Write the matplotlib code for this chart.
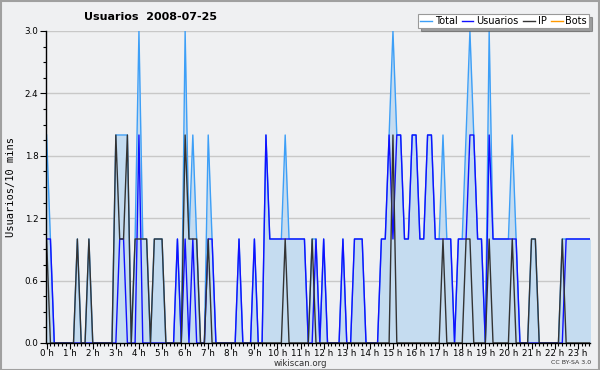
import matplotlib
matplotlib.use("Agg")
import matplotlib.pyplot as plt
from matplotlib.patches import Rectangle
from matplotlib.ticker import MultipleLocator, FixedLocator

# 10-minute slots of 2008-07-25 (index 0 = 00:00)
usuarios = [1,1,0,0,0,0,0,0,0,0,
            0,0,0,0,0,0,0,0,0,1,
            1,0,0,0,2,0,0,0,0,0,
            0,0,0,0,1,0,1,0,1,0,
            0,0,1,1,0,0,0,0,0,0,
            1,0,0,0,1,0,0,2,1,1,
            1,1,1,1,1,1,1,1,0,0,
            1,0,1,0,0,0,0,1,0,0,
            1,1,1,0,0,0,0,1,1,2,
            1,2,2,1,1,2,2,1,1,2,
            2,1,1,1,1,1,0,1,1,1,
            2,2,1,1,0,2,1,1,1,1,
            1,1,1,0,0,0,0,0,0,0,
            0,0,0,0,0,1,1,1,1,1,
            1,1,1,1]
ip = [1,0,0,0,0,0,0,0,1,0,
      0,1,0,0,0,0,0,0,2,1,
      1,2,0,1,1,1,1,0,1,1,
      1,0,0,0,0,0,2,1,1,1,
      0,0,1,0,0,0,0,0,0,0,
      0,0,0,0,0,0,0,0,0,0,
      0,0,1,0,0,0,0,0,0,1,
      0,0,0,0,0,0,0,0,0,0,
      0,0,0,0,0,0,0,0,0,0,
      2,0,0,0,0,0,0,0,0,0,
      0,0,0,1,0,0,0,0,0,1,
      1,0,0,0,0,1,0,0,0,0,
      0,1,0,0,0,0,1,1,0,0,
      0,0,0,0,1,0,0,0,0,0,
      0,0,0,0]
total = [2,1,0,0,0,0,0,0,1,0,
         0,1,0,0,0,0,0,0,2,2,
         2,2,0,1,3,1,1,0,1,1,
         1,0,0,0,1,0,3,1,2,1,
         0,0,2,1,0,0,0,0,0,0,
         1,0,0,0,1,0,0,2,1,1,
         1,1,2,1,1,1,1,1,0,1,
         1,0,1,0,0,0,0,1,0,0,
         1,1,1,0,0,0,0,1,1,2,
         3,2,2,1,1,2,2,1,1,2,
         2,1,1,2,1,1,0,1,1,2,
         3,2,1,1,0,3,1,1,1,1,
         1,2,1,0,0,0,1,1,0,0,
         0,0,0,0,1,1,1,1,1,1,
         1,1,1,1]
bots = [0] * 144
hour_labels = [f"{h} h" for h in range(24)]
y_ticks = [0.0, 0.6, 1.2, 1.8, 2.4, 3.0]

BG = "#eff0f2"
fig = plt.figure(figsize=(6.0, 3.7), dpi=100, facecolor=BG)
ax = fig.add_axes([46/600, 1-343/370, 544/600, 312/370])
ax.set_facecolor(BG)

x = list(range(len(total)))
ax.plot(x, bots, color="#ff9900", lw=1.0, zorder=0.8)
ax.fill_between(x, total, 0, color="#c5dcf0", lw=0, zorder=1)
l_tot, = ax.plot(x, total, color="#3d9ff7", lw=1.0, zorder=2, label="Total")
l_usr, = ax.plot(x, usuarios, color="#1010ff", lw=1.0, zorder=2.1, label="Usuarios")
l_ip, = ax.plot(x, ip, color="#333333", lw=1.0, zorder=2.2, label="IP")
l_bot, = ax.plot([], [], color="#ff9900", lw=1.0, label="Bots")

ax.set_xlim(-0.15, 141.2)
ax.set_ylim(0, 3.0)

ax.yaxis.set_major_locator(FixedLocator(y_ticks))
ax.yaxis.set_minor_locator(MultipleLocator(0.15))
ax.set_yticklabels([f"{v:.1f}" for v in y_ticks])
ax.xaxis.set_major_locator(FixedLocator([6*h for h in range(24)]))
ax.xaxis.set_minor_locator(MultipleLocator(1))
ax.set_xticklabels(hour_labels)

ax.grid(axis="y", color="#c8c8c8", lw=1.0, zorder=0.5)
ax.set_axisbelow(True)
for s in ("top", "right"):
    ax.spines[s].set_visible(False)
for s in ("left", "bottom"):
    ax.spines[s].set_color("black")
    ax.spines[s].set_linewidth(1.0)
    ax.spines[s].set_zorder(3)

ax.tick_params(axis="both", which="major", direction="out", length=4, width=0.8,
               labelsize=6.3, colors="black")
ax.tick_params(axis="x", which="major", pad=0.5)
ax.tick_params(axis="y", which="major", pad=1.5)
ax.tick_params(axis="both", which="minor", direction="out", length=2.5, width=0.8)

ax.set_ylabel("Usuarios/10 mins", family="DejaVu Sans Mono", fontsize=7.5, labelpad=6)

fig.text(151/600, 1-17/370, "Usuarios  2008-07-25", ha="center", va="center",
         fontsize=8, fontweight="bold")
fig.text(300/600, 1-363/370, "wikiscan.org", ha="center", va="center", fontsize=6.2,
         color="#333333")
fig.text(591/600, 1-363/370, "CC BY-SA 3.0", ha="right", va="center", fontsize=4.5,
         color="#333333")

leg = fig.legend(handles=[l_tot, l_usr, l_ip, l_bot], labels=["Total", "Usuarios", "IP", "Bots"],
                 loc="upper right", bbox_to_anchor=(589/600, 1-14/370), ncol=4,
                 fontsize=7, frameon=True, fancybox=False, shadow=True,
                 handlelength=1.2, handletextpad=0.3, columnspacing=0.45,
                 borderpad=0.2, borderaxespad=0.0)
leg.get_frame().set_edgecolor("#999999")
leg.get_frame().set_facecolor("white")
leg.get_frame().set_linewidth(0.8)

fig.patches.append(Rectangle((0.001, 0.001), 0.997, 0.997, transform=fig.transFigure,
                             fill=False, edgecolor="#a0a0a0", lw=1.5))

fig.savefig("out.png", dpi=100, facecolor=BG)
